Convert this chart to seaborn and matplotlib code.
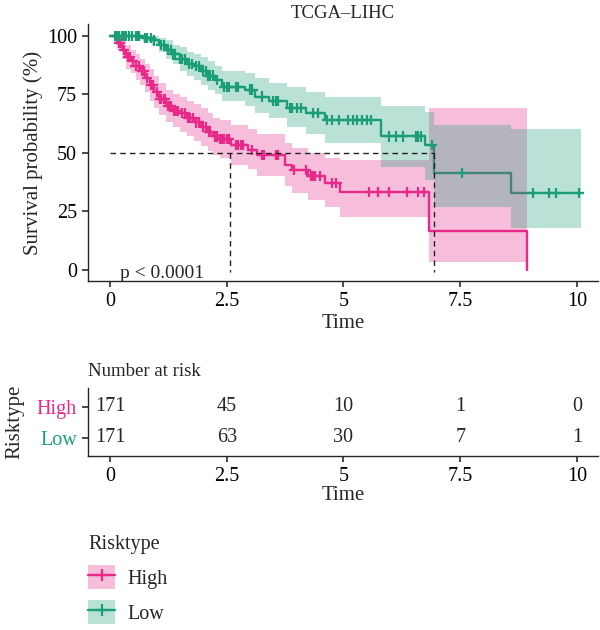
import matplotlib

matplotlib.use("Agg")

import matplotlib.pyplot as plt
import numpy as np
import pandas as pd
import seaborn as sns
from matplotlib.legend_handler import HandlerTuple
from matplotlib.lines import Line2D
from matplotlib.patches import Patch

RISK_COLORS = {
    "High": "#E7298A",  # magenta
    "Low": "#1B9E77",  # teal
}

# ---- Kaplan-Meier steps (time in years, survival in %) ----
HIGH_TIME = [0, 0.15, 0.25, 0.35, 0.45, 0.55, 0.65, 0.75, 0.85, 0.95, 1.05, 1.2,
             1.35, 1.5, 1.65, 1.8, 1.95, 2.1, 2.2, 2.35, 2.6, 2.95, 3.15, 3.74,
             3.9, 4.25, 4.6, 4.93, 6.83, 8.93]
HIGH_SURV = [100, 97, 94, 91, 89, 87, 85, 82, 79, 76, 73, 70, 68, 67, 65, 63, 61,
             59, 57, 56, 53.5, 51.3, 49, 45, 42.7, 40, 37, 33.3, 16.7, 0]
HIGH_LOWER = [100, 94, 90, 86, 84, 81, 79, 76, 72, 69, 66, 63, 61, 59, 57, 55, 53,
              51, 49, 48, 45, 43, 40, 36, 33, 30, 27, 22.6, 3.5, 3.5]
HIGH_UPPER = [100, 100, 98, 96, 94, 92, 90, 88, 86, 83, 80, 77, 75, 74, 72, 71, 69,
              67, 65, 64, 62, 60, 58, 54, 52, 50, 48, 47, 69, 69]
HIGH_CENSOR = [0.2, 0.22, 0.3, 0.38, 0.42, 0.5, 0.55, 0.62, 0.68, 0.72, 0.8, 0.88,
               0.92, 1.0, 1.08, 1.1, 1.15, 1.18, 1.25, 1.28, 1.3, 1.38, 1.42, 1.46,
               1.55, 1.6, 1.68, 1.72, 1.78, 1.85, 1.9, 2.0, 2.05, 2.12, 2.15, 2.25,
               2.3, 2.35, 2.4, 2.45, 2.5, 2.55, 2.7, 2.75, 2.8, 2.85, 3.05, 3.25,
               3.3, 3.55, 3.6, 3.95, 4.2, 4.3, 4.35, 4.4, 4.5, 4.75, 4.85, 5.55,
               5.75, 5.97, 6.37, 6.6, 6.72]

LOW_TIME = [0, 0.7, 0.9, 1.05, 1.2, 1.35, 1.5, 1.65, 1.8, 1.95, 2.1, 2.25, 2.4,
            2.9, 3.1, 3.4, 3.8, 4.2, 4.6, 5.8, 6.75, 6.93, 8.58, 10.08]
LOW_SURV = [100, 99, 98, 96, 94, 92, 90, 88, 87, 85, 83, 81, 78, 77, 74, 72, 69,
            67, 64, 57, 53.4, 41.4, 33, 33]
LOW_LOWER = [100, 97.5, 96, 93, 90, 88, 85, 83, 81, 79, 77, 75, 72, 70, 67, 65, 61,
             58, 54, 44, 38.5, 27, 18, 18]
LOW_UPPER = [100, 100, 100, 99, 98, 96, 95, 93, 92, 91, 89, 87, 85, 84, 82, 80, 78,
             76, 74, 70, 67.5, 62, 60, 60]
LOW_CENSOR = [0.1, 0.15, 0.2, 0.25, 0.3, 0.35, 0.4, 0.48, 0.55, 0.6, 0.62, 0.75,
              0.8, 0.88, 0.95, 1.1, 1.15, 1.25, 1.3, 1.35, 1.4, 1.5, 1.55, 1.6,
              1.7, 1.75, 1.85, 1.9, 2.0, 2.05, 2.1, 2.15, 2.2, 2.3, 2.45, 2.5, 2.55,
              2.7, 2.75, 3.0, 3.05, 3.25, 3.5, 3.55, 3.6, 3.85, 3.9, 4.0, 4.1,
              4.35, 4.45, 4.65, 4.75, 4.9, 5.1, 5.2, 5.3, 5.4, 5.5, 5.6, 5.97, 6.12,
              6.27, 6.55, 6.6, 6.65, 6.9, 7.53, 9.05, 9.4, 9.55, 10.04]

MEDIAN_TIME = [2.58, 6.93]

# ---- number at risk table ----
RISK_TIMES = [0, 2.5, 5, 7.5, 10]
RISK_HIGH = [171, 45, 10, 1, 0]
RISK_LOW = [171, 63, 30, 7, 1]

X_TICKS = [0, 2.5, 5, 7.5, 10]
X_TICK_LABELS = ["0", "2.5", "5", "7.5", "10"]
Y_TICKS = [0, 25, 50, 75, 100]

FONT = ["Liberation Serif", "DejaVu Serif"]
FS_TICK = 14.5
FS_LABEL = 15
FS_TITLE = 13.5


def _curve_frame() -> pd.DataFrame:
    parts = []
    for name, t, s, lo, hi in [
        ("High", HIGH_TIME, HIGH_SURV, HIGH_LOWER, HIGH_UPPER),
        ("Low", LOW_TIME, LOW_SURV, LOW_LOWER, LOW_UPPER),
    ]:
        parts.append(
            pd.DataFrame({"risk": name, "time": t, "surv": s, "lower": lo, "upper": hi})
        )
    return pd.concat(parts, ignore_index=True)


def _censor_frame(curves: pd.DataFrame) -> pd.DataFrame:
    rows = []
    for name, cens in [("High", HIGH_CENSOR), ("Low", LOW_CENSOR)]:
        c = curves[curves["risk"] == name]
        t = c["time"].to_numpy()
        s = c["surv"].to_numpy()
        for ct in cens:
            idx = np.searchsorted(t, ct, side="right") - 1
            rows.append({"risk": name, "time": ct, "surv": s[idx]})
    return pd.DataFrame(rows)


def _survival_panel(ax, curves: pd.DataFrame) -> None:
    # lines first, ribbons on top (High then Low), like survminer
    sns.lineplot(
        data=curves, x="time", y="surv", hue="risk", palette=RISK_COLORS,
        drawstyle="steps-post", estimator=None, linewidth=1.7, ax=ax, legend=False,
    )
    for name in ["High", "Low"]:
        c = curves[curves["risk"] == name]
        ax.fill_between(
            c["time"], c["lower"], c["upper"],
            step="post", color=RISK_COLORS[name], alpha=0.3, linewidth=0, zorder=3,
        )

    censors = _censor_frame(curves)
    sns.scatterplot(
        data=censors, x="time", y="surv", hue="risk", palette=RISK_COLORS,
        marker="+", s=55, linewidth=1.6, ax=ax, legend=False, zorder=5,
    )

    # median survival lines
    ax.plot([0, max(MEDIAN_TIME)], [50, 50], ls=(0, (4, 3)), color="#222222",
            lw=1, zorder=6)
    for m in MEDIAN_TIME:
        ax.plot([m, m], [50, -1], ls=(0, (4, 3)), color="#222222", lw=1, zorder=6)

    ax.text(0.22, -1.3, "p < 0.0001", ha="left", va="center", fontsize=14,
            family=FONT)

    ax.set_xlim(-0.47, 10.45)
    ax.set_ylim(-4.7, 105)
    ax.set_xticks(X_TICKS)
    ax.set_xticklabels(X_TICK_LABELS)
    ax.set_yticks(Y_TICKS)
    ax.set_xlabel("Time", fontsize=FS_LABEL, labelpad=2)
    ax.set_ylabel("Survival probability (%)", fontsize=FS_LABEL, labelpad=3)
    ax.set_title("TCGA–LIHC", fontsize=FS_TITLE, pad=4)


def _risk_table(ax) -> None:
    for row, (name, counts) in enumerate([("Low", RISK_LOW), ("High", RISK_HIGH)], 1):
        for t, n in zip(RISK_TIMES, counts):
            ax.text(t, row, str(n), ha="center", va="center", fontsize=FS_TICK,
                    family=FONT)

    ax.set_xlim(-0.47, 10.45)
    ax.set_ylim(0.42, 2.61)
    ax.set_xticks(X_TICKS)
    ax.set_xticklabels(X_TICK_LABELS)
    ax.set_yticks([1, 2])
    ax.set_yticklabels(["Low", "High"])
    for lbl in ax.get_yticklabels():
        lbl.set_color(RISK_COLORS[lbl.get_text()])
    ax.set_xlabel("Time", fontsize=FS_LABEL, labelpad=0)
    ax.set_ylabel("Risktype", fontsize=FS_LABEL, labelpad=9)
    ax.set_title("Number at risk", fontsize=FS_TITLE, loc="left", pad=9)


def main() -> None:
    sns.set_theme(style="ticks")
    plt.rcParams["font.family"] = FONT
    plt.rcParams["xtick.labelsize"] = FS_TICK
    plt.rcParams["ytick.labelsize"] = FS_TICK
    plt.rcParams["axes.linewidth"] = 1.0
    plt.rcParams["xtick.major.size"] = 4
    plt.rcParams["ytick.major.size"] = 4
    plt.rcParams["xtick.color"] = "#333333"
    plt.rcParams["ytick.color"] = "#333333"
    plt.rcParams["xtick.labelcolor"] = "black"
    plt.rcParams["ytick.labelcolor"] = "black"

    fig = plt.figure(figsize=(6.0, 6.3), dpi=100)
    ax = fig.add_axes([88 / 600, 1 - 281 / 630, 510 / 600, 257 / 630])
    ax_risk = fig.add_axes([88 / 600, 1 - 456 / 630, 510 / 600, 68 / 630])

    curves = _curve_frame()
    _survival_panel(ax, curves)
    _risk_table(ax_risk)

    for a in (ax, ax_risk):
        sns.despine(ax=a)
        a.tick_params(axis="both", pad=4)

    # ---- legend ----
    handles = [
        (
            Patch(facecolor=RISK_COLORS[name], alpha=0.3, linewidth=0),
            Line2D([], [], color=RISK_COLORS[name], marker="+", ms=8, mew=1.6, lw=1.7),
        )
        for name in RISK_COLORS
    ]
    fig.legend(
        handles, list(RISK_COLORS), title="Risktype", loc="upper left",
        bbox_to_anchor=(70 / 600, 1 - 517 / 630), frameon=False,
        handler_map={tuple: HandlerTuple(ndivide=1, pad=0)},
        handlelength=1.35, handleheight=1.45, labelspacing=0.55, handletextpad=0.6,
        alignment="left", fontsize=FS_TICK, title_fontsize=FS_TICK,
    )

    fig.savefig("out.png", dpi=100)


if __name__ == "__main__":
    main()
